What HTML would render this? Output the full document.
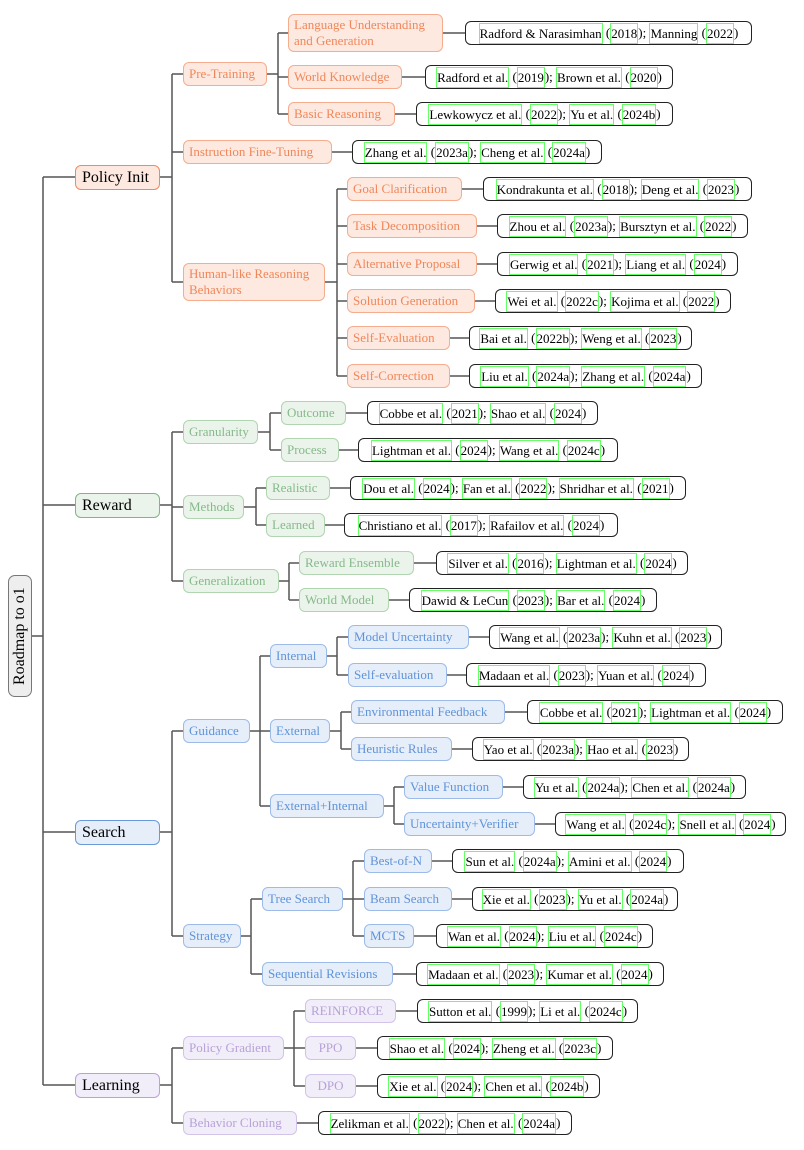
<!DOCTYPE html>
<html><head><meta charset="utf-8">
<style>
body{margin:0;width:804px;height:1150px;background:#fff;position:relative;font-family:"Liberation Serif","Times New Roman","DejaVu Serif",serif;overflow:hidden}
div,span{font-family:"Liberation Serif","Times New Roman","DejaVu Serif",serif}
svg{position:absolute;left:0;top:0}
.n{position:absolute;height:24px;line-height:22px;border:1px solid;border-radius:6px;font-size:13px;padding:0 5px;box-sizing:border-box;white-space:nowrap}
.t{height:38px;line-height:16px;padding-top:2px}
.L{font-size:16px;color:#000;height:25px;line-height:23px;padding-left:6px;border-width:1.5px}
.o{color:#f0875a;background:#fde9e0;border-color:#f5ad8e}
.o.L{border-color:#ee8a5e;color:#000}
.gr{color:#86b98a;background:#ebf4eb;border-color:#b1d4b1}
.gr.L{border-color:#82b485;color:#000}
.b{color:#5f93d8;background:#e6eefa;border-color:#9dbbe8}
.b.L{border-color:#6a99d9;color:#000}
.p{color:#b7a1d8;background:#f2eef9;border-color:#d2c3e8}
.p.L{border-color:#b9a2da;color:#000}
.c{position:absolute;height:24px;border:1px solid #222;border-radius:6px;font-size:13px;box-sizing:border-box;display:flex;align-items:center;justify-content:center;white-space:nowrap;background:#fff;color:#000}
.g{border:1px solid #6f6;padding:0;line-height:19px}
.root{position:absolute;left:8px;top:575px;width:24px;height:122px;border:1px solid #777;border-radius:7px;background:#eee;box-sizing:border-box;font-size:16px;writing-mode:vertical-rl;transform:rotate(180deg);text-align:center;line-height:22px}
</style></head><body>
<svg width="804" height="1150"><path fill="none" stroke="#555" stroke-width="1.5" d="
M32 636H43M43 177V1085M43 177H75M43 505H75M43 832H75M43 1085H75
M160 177H172M172 74V282M172 74H183M172 152H183M172 282H183
M267 74H278M278 33V114M278 33H288M278 77H288M278 114H288
M443 33H465M402 77H425M395 114H416M332 152H352
M325 282H337M337 189V376M337 189H347M337 226H347M337 264H347M337 301H347M337 338H347M337 376H347
M462 189H483M477 226H497M477 264H497M475 301H495M450 338H469M450 376H469
M160 505H172M172 432V581M172 432H183M172 507H183M172 581H183
M258 432H270M270 413V450M270 413H281M270 450H281M346 413H367M339 450H358
M244 507H256M256 488V525M256 488H266M256 525H266M330 488H350M325 525H344
M279 581H289M289 563V600M289 563H299M289 600H299M414 563H436M389 600H409
M160 832H172M172 731V936M172 731H183M172 936H183
M250 731H260M260 656V806M260 656H270M260 731H270M260 806H270
M327 656H337M337 637V675M337 637H348M337 675H348M469 637H489M447 675H466
M330 731H341M341 712V749M341 712H351M341 749H351M505 712H527M452 749H472
M384 806H394M394 787V824M394 787H404M394 824H404M503 787H523M535 824H555
M241 936H251M251 899V974M251 899H262M251 974H262
M343 899H353M353 861V936M353 861H364M353 899H364M353 936H364M432 861H452M452 899H472M414 936H436M393 974H416
M160 1085H172M172 1048V1123M172 1048H183M172 1123H183
M284 1048H294M294 1011V1086M294 1011H305M294 1048H305M294 1086H305M396 1011H417M356 1048H377M356 1086H377M297 1123H318
"/></svg>
<div class="root">Roadmap to o1</div>

<div class="n o L" style="left:75px;top:165px;width:85px">Policy Init</div>
<div class="n gr L" style="left:75px;top:493px;width:85px">Reward</div>
<div class="n b L" style="left:75px;top:820px;width:85px">Search</div>
<div class="n p L" style="left:75px;top:1073px;width:85px">Learning</div>

<div class="n o" style="left:183px;top:62px;width:84px">Pre-Training</div>
<div class="n o" style="left:183px;top:140px;width:149px">Instruction Fine-Tuning</div>
<div class="n o t" style="left:183px;top:263px;width:142px">Human-like Reasoning<br>Behaviors</div>
<div class="n o t" style="left:288px;top:14px;width:155px">Language Understanding<br>and Generation</div>
<div class="n o" style="left:288px;top:65px;width:114px">World Knowledge</div>
<div class="n o" style="left:288px;top:102px;width:107px">Basic Reasoning</div>
<div class="c" style="left:465px;top:21px;width:287px"><span class="g">Radford &amp; Narasimhan</span>&nbsp;(<span class="g">2018</span>);&nbsp;<span class="g">Manning</span>&nbsp;(<span class="g">2022</span>)</div>
<div class="c" style="left:425px;top:65px;width:248px"><span class="g">Radford et al.</span>&nbsp;(<span class="g">2019</span>);&nbsp;<span class="g">Brown et al.</span>&nbsp;(<span class="g">2020</span>)</div>
<div class="c" style="left:416px;top:102px;width:257px"><span class="g">Lewkowycz et al.</span>&nbsp;(<span class="g">2022</span>);&nbsp;<span class="g">Yu et al.</span>&nbsp;(<span class="g">2024b</span>)</div>
<div class="c" style="left:352px;top:140px;width:250px"><span class="g">Zhang et al.</span>&nbsp;(<span class="g">2023a</span>);&nbsp;<span class="g">Cheng et al.</span>&nbsp;(<span class="g">2024a</span>)</div>

<div class="n o" style="left:347px;top:177px;width:115px">Goal Clarification</div>
<div class="n o" style="left:347px;top:214px;width:130px">Task Decomposition</div>
<div class="n o" style="left:347px;top:252px;width:130px">Alternative Proposal</div>
<div class="n o" style="left:347px;top:289px;width:128px">Solution Generation</div>
<div class="n o" style="left:347px;top:326px;width:103px">Self-Evaluation</div>
<div class="n o" style="left:347px;top:364px;width:103px">Self-Correction</div>
<div class="c" style="left:483px;top:177px;width:269px"><span class="g">Kondrakunta et al.</span>&nbsp;(<span class="g">2018</span>);&nbsp;<span class="g">Deng et al.</span>&nbsp;(<span class="g">2023</span>)</div>
<div class="c" style="left:497px;top:214px;width:251px"><span class="g">Zhou et al.</span>&nbsp;(<span class="g">2023a</span>);&nbsp;<span class="g">Bursztyn et al.</span>&nbsp;(<span class="g">2022</span>)</div>
<div class="c" style="left:497px;top:252px;width:241px"><span class="g">Gerwig et al.</span>&nbsp;(<span class="g">2021</span>);&nbsp;<span class="g">Liang et al.</span>&nbsp;(<span class="g">2024</span>)</div>
<div class="c" style="left:495px;top:289px;width:236px"><span class="g">Wei et al.</span>&nbsp;(<span class="g">2022c</span>);&nbsp;<span class="g">Kojima et al.</span>&nbsp;(<span class="g">2022</span>)</div>
<div class="c" style="left:469px;top:326px;width:223px"><span class="g">Bai et al.</span>&nbsp;(<span class="g">2022b</span>);&nbsp;<span class="g">Weng et al.</span>&nbsp;(<span class="g">2023</span>)</div>
<div class="c" style="left:469px;top:364px;width:233px"><span class="g">Liu et al.</span>&nbsp;(<span class="g">2024a</span>);&nbsp;<span class="g">Zhang et al.</span>&nbsp;(<span class="g">2024a</span>)</div>

<div class="n gr" style="left:183px;top:420px;width:75px">Granularity</div>
<div class="n gr" style="left:183px;top:495px;width:61px">Methods</div>
<div class="n gr" style="left:183px;top:569px;width:96px">Generalization</div>
<div class="n gr" style="left:281px;top:401px;width:65px">Outcome</div>
<div class="n gr" style="left:281px;top:438px;width:58px">Process</div>
<div class="n gr" style="left:266px;top:476px;width:64px">Realistic</div>
<div class="n gr" style="left:266px;top:513px;width:59px">Learned</div>
<div class="n gr" style="left:299px;top:551px;width:115px">Reward Ensemble</div>
<div class="n gr" style="left:299px;top:588px;width:90px">World Model</div>
<div class="c" style="left:367px;top:401px;width:231px"><span class="g">Cobbe et al.</span>&nbsp;(<span class="g">2021</span>);&nbsp;<span class="g">Shao et al.</span>&nbsp;(<span class="g">2024</span>)</div>
<div class="c" style="left:358px;top:438px;width:260px"><span class="g">Lightman et al.</span>&nbsp;(<span class="g">2024</span>);&nbsp;<span class="g">Wang et al.</span>&nbsp;(<span class="g">2024c</span>)</div>
<div class="c" style="left:350px;top:476px;width:336px"><span class="g">Dou et al.</span>&nbsp;(<span class="g">2024</span>);&nbsp;<span class="g">Fan et al.</span>&nbsp;(<span class="g">2022</span>);&nbsp;<span class="g">Shridhar et al.</span>&nbsp;(<span class="g">2021</span>)</div>
<div class="c" style="left:344px;top:513px;width:274px"><span class="g">Christiano et al.</span>&nbsp;(<span class="g">2017</span>);&nbsp;<span class="g">Rafailov et al.</span>&nbsp;(<span class="g">2024</span>)</div>
<div class="c" style="left:436px;top:551px;width:252px"><span class="g">Silver et al.</span>&nbsp;(<span class="g">2016</span>);&nbsp;<span class="g">Lightman et al.</span>&nbsp;(<span class="g">2024</span>)</div>
<div class="c" style="left:409px;top:588px;width:248px"><span class="g">Dawid &amp; LeCun</span>&nbsp;(<span class="g">2023</span>);&nbsp;<span class="g">Bar et al.</span>&nbsp;(<span class="g">2024</span>)</div>

<div class="n b" style="left:183px;top:719px;width:67px">Guidance</div>
<div class="n b" style="left:183px;top:924px;width:58px">Strategy</div>
<div class="n b" style="left:270px;top:644px;width:57px">Internal</div>
<div class="n b" style="left:270px;top:719px;width:60px">External</div>
<div class="n b" style="left:270px;top:794px;width:114px">External+Internal</div>
<div class="n b" style="left:348px;top:625px;width:121px">Model Uncertainty</div>
<div class="n b" style="left:348px;top:663px;width:99px">Self-evaluation</div>
<div class="n b" style="left:351px;top:700px;width:154px">Environmental Feedback</div>
<div class="n b" style="left:351px;top:737px;width:101px">Heuristic Rules</div>
<div class="n b" style="left:404px;top:775px;width:99px">Value Function</div>
<div class="n b" style="left:404px;top:812px;width:131px">Uncertainty+Verifier</div>
<div class="c" style="left:489px;top:625px;width:233px"><span class="g">Wang et al.</span>&nbsp;(<span class="g">2023a</span>);&nbsp;<span class="g">Kuhn et al.</span>&nbsp;(<span class="g">2023</span>)</div>
<div class="c" style="left:466px;top:663px;width:240px"><span class="g">Madaan et al.</span>&nbsp;(<span class="g">2023</span>);&nbsp;<span class="g">Yuan et al.</span>&nbsp;(<span class="g">2024</span>)</div>
<div class="c" style="left:527px;top:700px;width:256px"><span class="g">Cobbe et al.</span>&nbsp;(<span class="g">2021</span>);&nbsp;<span class="g">Lightman et al.</span>&nbsp;(<span class="g">2024</span>)</div>
<div class="c" style="left:472px;top:737px;width:217px"><span class="g">Yao et al.</span>&nbsp;(<span class="g">2023a</span>);&nbsp;<span class="g">Hao et al.</span>&nbsp;(<span class="g">2023</span>)</div>
<div class="c" style="left:523px;top:775px;width:223px"><span class="g">Yu et al.</span>&nbsp;(<span class="g">2024a</span>);&nbsp;<span class="g">Chen et al.</span>&nbsp;(<span class="g">2024a</span>)</div>
<div class="c" style="left:555px;top:812px;width:231px"><span class="g">Wang et al.</span>&nbsp;(<span class="g">2024c</span>);&nbsp;<span class="g">Snell et al.</span>&nbsp;(<span class="g">2024</span>)</div>

<div class="n b" style="left:262px;top:887px;width:81px">Tree Search</div>
<div class="n b" style="left:262px;top:962px;width:131px">Sequential Revisions</div>
<div class="n b" style="left:364px;top:849px;width:68px">Best-of-N</div>
<div class="n b" style="left:364px;top:887px;width:88px">Beam Search</div>
<div class="n b" style="left:364px;top:924px;width:50px">MCTS</div>
<div class="c" style="left:452px;top:849px;width:232px"><span class="g">Sun et al.</span>&nbsp;(<span class="g">2024a</span>);&nbsp;<span class="g">Amini et al.</span>&nbsp;(<span class="g">2024</span>)</div>
<div class="c" style="left:472px;top:887px;width:206px"><span class="g">Xie et al.</span>&nbsp;(<span class="g">2023</span>);&nbsp;<span class="g">Yu et al.</span>&nbsp;(<span class="g">2024a</span>)</div>
<div class="c" style="left:436px;top:924px;width:217px"><span class="g">Wan et al.</span>&nbsp;(<span class="g">2024</span>);&nbsp;<span class="g">Liu et al.</span>&nbsp;(<span class="g">2024c</span>)</div>
<div class="c" style="left:416px;top:962px;width:248px"><span class="g">Madaan et al.</span>&nbsp;(<span class="g">2023</span>);&nbsp;<span class="g">Kumar et al.</span>&nbsp;(<span class="g">2024</span>)</div>

<div class="n p" style="left:183px;top:1036px;width:101px">Policy Gradient</div>
<div class="n p" style="left:183px;top:1111px;width:114px">Behavior Cloning</div>
<div class="n p" style="left:305px;top:999px;width:91px">REINFORCE</div>
<div class="n p" style="left:305px;top:1036px;width:51px;text-align:center">PPO</div>
<div class="n p" style="left:305px;top:1074px;width:51px;text-align:center">DPO</div>
<div class="c" style="left:417px;top:999px;width:221px"><span class="g">Sutton et al.</span>&nbsp;(<span class="g">1999</span>);&nbsp;<span class="g">Li et al.</span>&nbsp;(<span class="g">2024c</span>)</div>
<div class="c" style="left:377px;top:1036px;width:236px"><span class="g">Shao et al.</span>&nbsp;(<span class="g">2024</span>);&nbsp;<span class="g">Zheng et al.</span>&nbsp;(<span class="g">2023c</span>)</div>
<div class="c" style="left:377px;top:1074px;width:223px"><span class="g">Xie et al.</span>&nbsp;(<span class="g">2024</span>);&nbsp;<span class="g">Chen et al.</span>&nbsp;(<span class="g">2024b</span>)</div>
<div class="c" style="left:318px;top:1111px;width:254px"><span class="g">Zelikman et al.</span>&nbsp;(<span class="g">2022</span>);&nbsp;<span class="g">Chen et al.</span>&nbsp;(<span class="g">2024a</span>)</div>
</body></html>
